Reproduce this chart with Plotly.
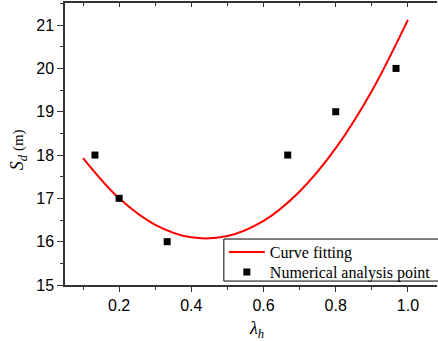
import plotly.graph_objects as go

# Numerical analysis points
pt_x = [0.133, 0.2, 0.333, 0.667, 0.8, 0.967]
pt_y = [18, 17, 16, 18, 19, 20]

# Fitted curve
fit_x = [0.1, 0.2, 0.3, 0.4, 0.5, 0.6, 0.7, 0.8, 0.9, 1.0]
fit_y = [17.93, 17.0, 16.39, 16.10, 16.13, 16.48, 17.16, 18.16, 19.48, 21.12]

x_ticks = [0.2, 0.4, 0.6, 0.8, 1.0]
x_ticklabels = ["0.2", "0.4", "0.6", "0.8", "1.0"]
y_ticks = [15, 16, 17, 18, 19, 20, 21]

XR = [0.05, 1.0805]
YR = [15, 21.51]
AX = "#333333"
LEG_FONT = dict(family="Liberation Serif, Times New Roman", size=16)

fig = go.Figure()
fig.add_trace(go.Scatter(x=fit_x, y=fit_y, mode="lines", name="Curve fitting", legend="legend",
                         line=dict(color="#ff0000", width=2, shape="spline", smoothing=1.0)))
fig.add_trace(go.Scatter(x=pt_x, y=pt_y, mode="markers", name="Numerical analysis point",
                         legend="legend2",
                         marker=dict(symbol="square", size=7, color="black")))
# invisible trace for the mirrored top axis
fig.add_trace(go.Scatter(x=[XR[0]], y=[YR[0]], xaxis="x2", mode="markers",
                         marker=dict(opacity=0), showlegend=False, hoverinfo="skip"))

fig.update_layout(
    width=438, height=341,
    margin=dict(l=65, r=1, t=3, b=56),
    plot_bgcolor="white", paper_bgcolor="white",
    font=dict(family="Liberation Sans, Arial", size=16, color="black"),
    xaxis=dict(range=XR, tickvals=x_ticks, ticktext=x_ticklabels, ticks="outside",
               ticklen=5, tickwidth=1, tickcolor=AX, showline=True, linecolor=AX,
               linewidth=1.5, showgrid=False, zeroline=False,
               minor=dict(dtick=0.1, tick0=0, ticks="outside", ticklen=3, tickcolor=AX, showgrid=False)),
    xaxis2=dict(range=XR, overlaying="x", side="top", ticks="inside", tickvals=x_ticks,
                showticklabels=False, ticklen=4, tickcolor=AX, showline=True, linecolor=AX,
                linewidth=1.5, showgrid=False, zeroline=False,
                minor=dict(dtick=0.1, tick0=0, ticks="inside", ticklen=3, tickcolor=AX, showgrid=False)),
    yaxis=dict(range=YR, tickvals=y_ticks, ticks="outside", ticklen=6, tickwidth=1,
               tickcolor=AX, showline=True, linecolor=AX, linewidth=1.5,
               showgrid=False, zeroline=False,
               minor=dict(dtick=0.5, tick0=15, ticks="outside", ticklen=3, tickcolor=AX, showgrid=False)),
    legend=dict(x=0.427, y=0.117, xanchor="left", yanchor="middle",
                bgcolor="rgba(0,0,0,0)", borderwidth=0, font=LEG_FONT, itemwidth=36),
    legend2=dict(x=0.427, y=0.046, xanchor="left", yanchor="middle",
                 bgcolor="rgba(0,0,0,0)", borderwidth=0, font=LEG_FONT, itemwidth=36),
    showlegend=True,
)

# legend frame
fig.add_shape(type="rect", xref="paper", yref="paper", x0=0.427, x1=1.02, y0=0.014, y1=0.163,
              line=dict(color="black", width=1), fillcolor="white", layer="above")

fig.add_annotation(text="<i>S<sub>d</sub></i><span style='font-size:15px'> (m)</span>",
                   xref="paper", yref="paper", x=-0.125, y=0.48, textangle=-90,
                   showarrow=False, xanchor="center", yanchor="middle",
                   font=dict(family="Liberation Serif, Times New Roman", size=18))
fig.add_annotation(text="<i>λ<sub>h</sub></i>",
                   xref="paper", yref="paper", x=0.515, y=-0.11,
                   showarrow=False, xanchor="center", yanchor="top",
                   font=dict(family="Liberation Serif, Times New Roman", size=18))

fig.write_html("out.html", config={"displayModeBar": False},
               post_script="document.body.style.margin='0';document.body.style.padding='0';")
